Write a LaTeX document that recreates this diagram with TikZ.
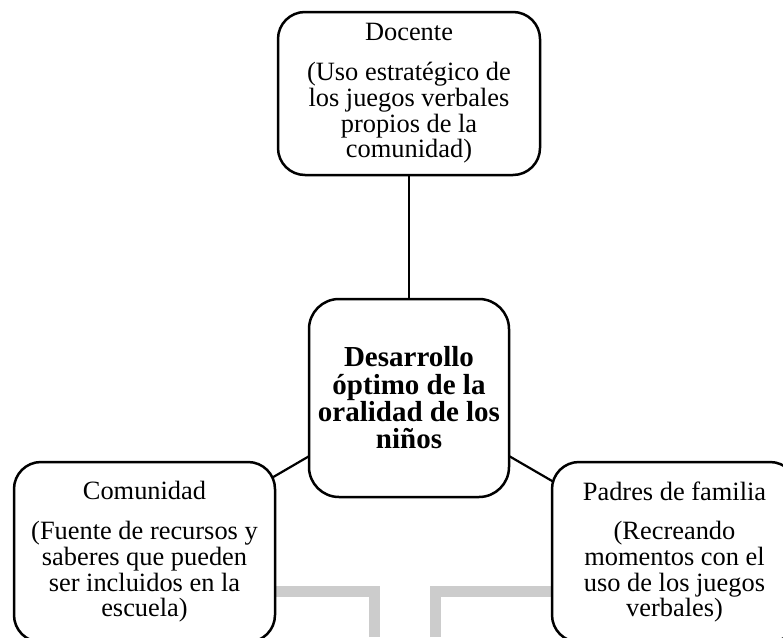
\documentclass[tikz,border=0pt]{standalone}
\usepackage{fontspec}
\setmainfont{Liberation Serif}
\usetikzlibrary{backgrounds}
\definecolor{graybar}{RGB}{204,204,204}
\tikzset{
  box/.style={draw, line width=2.5pt, rounded corners=27pt, fill=white, align=center,
    inner sep=0pt, font=\fontsize{26.4}{25.7}\selectfont},
  link/.style={draw, line width=2.2pt},
  bar/.style={draw=graybar, line width=11pt, line join=miter}
}
\begin{document}
\begin{tikzpicture}[x=1pt,y=-1pt]
\useasboundingbox (0,0) rectangle (783,637);
\node[box, minimum width=262pt, minimum height=163pt] (doc) at (409,93.5)
  {Docente\\[14pt](Uso estratégico de\\los juegos verbales\\propios de la\\comunidad)};
\node[box, minimum width=200pt, minimum height=198pt, rounded corners=30pt,
  font=\fontsize{29}{27.3}\selectfont\bfseries] (ctr) at (409,398)
  {Desarrollo\\óptimo de la\\oralidad de los\\niños};
\node[box, minimum width=261pt, minimum height=180pt] (com) at (144.5,552)
  {Comunidad\\[14pt](Fuente de recursos y\\saberes que pueden\\ser incluidos en la\\escuela)};
\node[box, minimum width=245pt, minimum height=180pt] (pad) at (674.5,552)
  {Padres de familia\\[14pt](Recreando\\momentos con el\\uso de los juegos\\verbales)};
\coordinate (g1) at (374,591.5);
\coordinate (g1b) at (374,637);
\coordinate (g2) at (435.5,591.5);
\coordinate (g2b) at (435.5,637);
\begin{pgfonlayer}{background}
  \draw[bar] (com.center |- g1) -- (g1) -- (g1b);
  \draw[bar] (g2b) -- (g2) -- (pad.center |- g2);
  \draw[link] (ctr.center) -- (ctr.center |- doc.center);
  \draw[link] (ctr.center) -- (com.center);
  \draw[link] (ctr.center) -- (pad.center);
\end{pgfonlayer}
\end{tikzpicture}
\end{document}
